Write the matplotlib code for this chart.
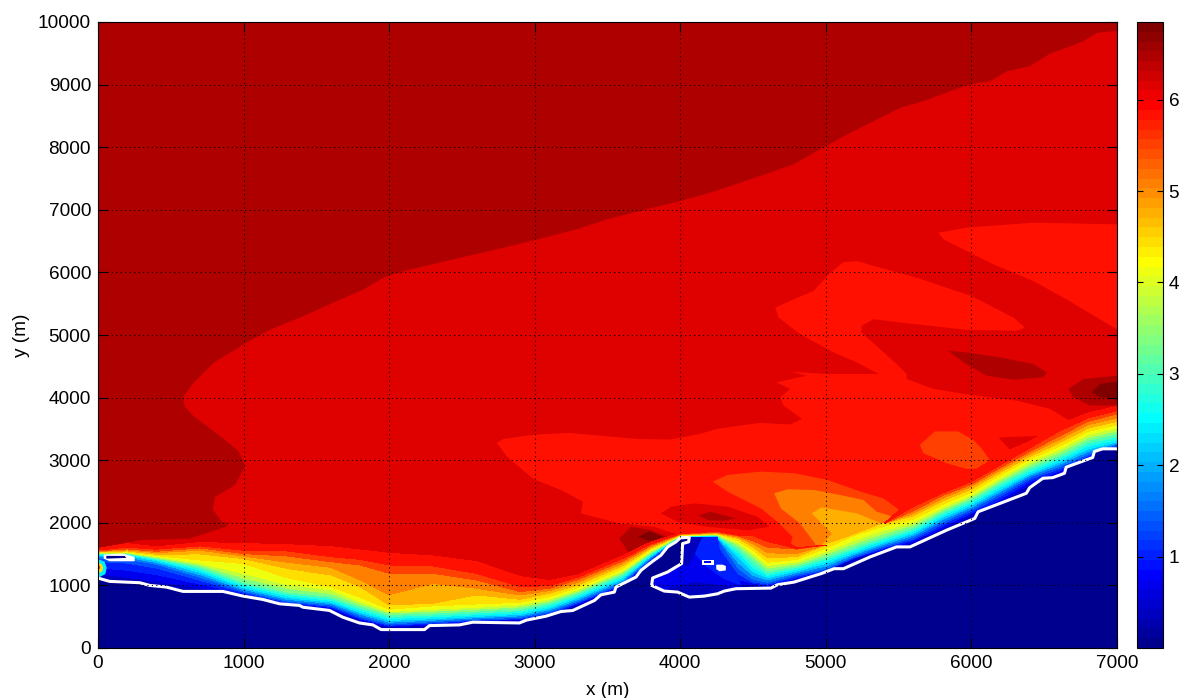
import numpy as np
import matplotlib
matplotlib.use('Agg')
import matplotlib.pyplot as plt
from matplotlib.cm import ScalarMappable
from matplotlib.colors import ListedColormap, Normalize

plt.rcParams['font.family'] = ['Liberation Sans', 'DejaVu Sans']

# values along the coast: y position of each value curve at each station
stations = [0, 200, 400, 700, 1000, 1300, 1600, 1800, 2000, 2300, 2600, 2900, 3100, 3300, 3600, 3800, 4000,
            4250, 4400, 4500, 4600, 4800, 5000, 5200, 5400, 5600, 5800, 6000, 6200, 6400, 6600, 6800, 7000]
y_000 = [900, 840, 790, 700, 630, 490, 400, 200, 105, 160, 210, 200, 310, 450, 750, 1150, 1500,
         700, 750, 770, 760, 850, 1000, 1190, 1320, 1440, 1660, 1870, 2080, 2360, 2540, 2800, 2980]
y_050 = [1130, 1064, 1010, 925, 850, 705, 620, 430, 330, 360, 420, 440, 530, 690, 989, 1385, 1765,
         1000, 960, 1000, 975, 1075, 1240, 1425, 1560, 1670, 1885, 2100, 2310, 2590, 2770, 3040, 3210]
y_150 = [1420, 1401, 1320, 1107, 893, 733, 672, 491, 368, 406, 448, 475, 565, 733, 1027, 1428, 1775,
         1770, 1214, 1064, 1027, 1160, 1246, 1455, 1615, 1749, 1989, 2200, 2444, 2711, 2872, 3075, 3240]
y_250 = [1490, 1492, 1401, 1225, 973, 813, 741, 581, 448, 475, 512, 544, 645, 813, 1107, 1481, 1782,
         1790, 1480, 1240, 1134, 1240, 1363, 1535, 1695, 1840, 2096, 2294, 2551, 2791, 2979, 3193, 3300]
y_350 = [1510, 1513, 1438, 1310, 1064, 904, 831, 677, 544, 565, 597, 634, 730, 893, 1187, 1524, 1790,
         1805, 1615, 1428, 1240, 1320, 1470, 1631, 1791, 1936, 2187, 2390, 2658, 2898, 3086, 3326, 3433]
y_410 = [1518, 1524, 1460, 1353, 1187, 1010, 927, 741, 582, 618, 650, 688, 778, 936, 1225, 1551, 1795,
         1815, 1680, 1508, 1320, 1375, 1539, 1722, 1882, 2005, 2240, 2444, 2711, 2968, 3166, 3406, 3513]
y_445 = [1525, 1535, 1476, 1406, 1348, 1120, 980, 810, 618, 672, 703, 730, 821, 973, 1267, 1578, 1800,
         1822, 1710, 1561, 1370, 1415, 1592, 1802, 1947, 2059, 2294, 2487, 2765, 3016, 3219, 3460, 3567]
y_479 = [1532, 1551, 1497, 1503, 1428, 1270, 1166, 980, 688, 714, 847, 778, 874, 1011, 1310, 1599, 1806,
         1830, 1749, 1615, 1440, 1460, 1645, 1807, 1989, 2112, 2347, 2540, 2808, 3059, 3273, 3513, 3620]
y_513 = [1540, 1567, 1524, 1561, 1470, 1370, 1289, 1087, 850, 1033, 954, 847, 916, 1053, 1348, 1620, 1812,
         1840, 1770, 1668, 1520, 1510, 1645, 1807, 1989, 2150, 2390, 2583, 2845, 3102, 3326, 3567, 3674]
y_547 = [1550, 1583, 1545, 1599, 1508, 1470, 1379, 1326, 1193, 1193, 1087, 900, 954, 1096, 1385, 1642, 1820,
         1850, 1790, 1711, 1610, 1580, 1645, 1807, 1989, 2193, 2433, 2615, 2882, 3139, 3380, 3620, 3738]
y_581 = [1565, 1610, 1578, 1631, 1561, 1550, 1459, 1416, 1326, 1310, 1193, 980, 996, 1134, 1428, 1663, 1828,
         1862, 1802, 1791, 1700, 1590, 1645, 1807, 1989, 2257, 2471, 2658, 2925, 3193, 3460, 3674, 3791]
y_616 = [1590, 1668, 1615, 1684, 1668, 1650, 1619, 1565, 1512, 1470, 1379, 1140, 1076, 1171, 1470, 1695, 1836,
         1875, 1820, 1882, 1860, 1600, 1645, 1807, 1989, 2400, 2600, 2800, 3100, 3300, 3567, 3754, 3861]
curve_values = [0, 0.5, 1.5, 2.5, 3.5, 4.1, 4.446, 4.788, 5.13, 5.472, 5.814, 6.156]

# contour level spacing of the picture
levels = [0.342 * k for k in range(19)]

# band 6.16: everything right of / below the darkest boundary
b616_x = [7000, 6858, 6767, 6630, 6539, 6401, 6242, 6127, 6000, 5853, 5670, 5510, 5350, 5168, 5000, 4779, 4482,
          4208, 4000, 3797, 3500, 3288, 3000, 2785, 2441, 2098, 1961, 1824, 1641, 1412, 1183, 1000, 794, 657,
          588, 593, 657, 840, 966, 1011, 996, 941, 803, 790, 852, 892, 880, 630, 286, 0, 0, 7000]
b616_y = [9860, 9823, 9690, 9568, 9494, 9292, 9212, 9053, 9011, 8894, 8735, 8628, 8442, 8230, 8018, 7726, 7487,
          7274, 7141, 7025, 6850, 6688, 6517, 6394, 6208, 6021, 5915, 5728, 5542, 5302, 5089, 4849, 4556, 4236,
          4023, 3863, 3703, 3383, 3143, 2903, 2843, 2603, 2411, 2204, 2012, 2000, 1935, 1749, 1722, 1588, 0, 0]

# band 5.81
b581_x = [6689, 6540, 6311, 6000, 5739, 5556, 5556, 5487, 5245, 5245, 5327, 5556, 5968, 6311, 6368, 6288, 6000,
          5625, 5213, 5121, 5018, 4915, 4778, 4652, 4675, 4824, 5053, 5213, 5362, 5007, 4755, 4870, 4659, 4755,
          4687, 4709, 4835, 4755, 4549, 4252, 4137, 3929, 3700, 3242, 3000, 2785, 2739, 2807, 2990, 3181, 3330,
          3318, 3581, 3822, 3936, 4000, 4300, 4600, 5000, 6000, 6700]
b581_y = [3607, 3820, 3952, 4042, 4138, 4297, 4377, 4536, 5040, 5146, 5252, 5188, 5082, 5066, 5119, 5279, 5623,
          5915, 6180, 6164, 5968, 5703, 5570, 5438, 5278, 5013, 4721, 4562, 4377, 4377, 4414, 4350, 4244, 4138,
          4005, 3873, 3660, 3570, 3597, 3501, 3422, 3330, 3340, 3436, 3410, 3340, 3276, 3063, 2700, 2524, 2337,
          2150, 1989, 1936, 1845, 1813, 1500, 1100, 1200, 2200, 3000]
top_x = [5773, 5968, 6426, 7000, 7000, 6654, 6426, 6151, 5922, 5808]
top_y = [6635, 6715, 6795, 6768, 5088, 5568, 5861, 6128, 6395, 6528]

# lobes over the main band
b547_x = [4222, 4325, 4554, 4782, 5011, 5240, 5395, 5491, 5520, 5395, 5189, 4950, 4800, 4805, 4760, 4771, 4668, 4554, 4325]
b547_y = [2658, 2765, 2818, 2792, 2685, 2497, 2390, 2230, 2150, 1900, 1800, 1500, 1400, 1561, 1668, 1775, 2016, 2230, 2497]
b513_x = [4645, 4737, 4920, 5098, 5258, 5349, 5480, 5400, 5000, 4925, 4822, 4691]
b513_y = [2471, 2535, 2524, 2444, 2364, 2177, 2085, 1800, 1300, 1672, 1991, 2230]
b479_x = [4903, 4971, 5212, 5383, 5480, 5400, 5000, 4961, 5041, 4961]
b479_y = [2151, 2246, 2151, 1991, 2030, 1700, 1300, 1615, 1829, 2016]
spot547_x = [5646, 5749, 5909, 6011, 6068, 6126, 6114, 5966, 5829, 5669]
spot547_y = [3246, 3460, 3460, 3326, 3193, 3005, 2872, 2861, 2952, 3112]

# darker patches
tri616_x = [6187, 6548, 6514, 6422, 6331, 6274]
tri616_y = [3364, 3396, 3246, 3112, 3059, 3139]
tri650_x = [6358, 6457, 6457, 6388]
tri650_y = [3219, 3273, 3193, 3139]
sliver616_x = [5669, 5737, 5840, 5897, 5840, 5715]
sliver616_y = [2417, 2481, 2540, 2562, 2497, 2390]
tongue650_x = [5842, 5968, 6197, 6425, 6517, 6494, 6288, 6105, 5945]
tongue650_y = [4748, 4721, 4642, 4536, 4403, 4324, 4286, 4350, 4562]
edge650_x = [6666, 6769, 7000, 7000, 6814, 6700]
edge650_y = [4138, 4297, 4350, 3873, 3873, 4005]
edge684_x = [6826, 6883, 7000, 7000, 6883]
edge684_y = [4085, 4218, 4255, 3990, 4005]
peak616_x = [3867, 3936, 4096, 4325, 4531, 4611, 4462, 4188, 3982]
peak616_y = [2150, 2257, 2310, 2257, 2096, 1936, 1882, 1936, 2016]
peak650_x = [4124, 4210, 4382, 4302, 4188]
peak650_y = [2123, 2176, 2070, 2032, 2043]
west650_x = [3581, 3661, 3799, 3936, 3776, 3650]
west650_y = [1749, 1936, 1882, 1749, 1631, 1508]
west684_x = [3707, 3787, 3879, 3799]
west684_y = [1775, 1866, 1775, 1695]

# lagoon behind the spit
lagoon_x = [4016, 4060, 4060, 4256, 4279, 4394, 4417, 4100, 3760, 3760, 3900, 4009]
lagoon_y = [1668, 1700, 1770, 1775, 1428, 1160, 950, 800, 950, 1150, 1250, 1350]
lagoon_dark1_x = [4016, 4060, 4150, 4100, 4050, 4009]
lagoon_dark1_y = [1668, 1770, 1770, 1500, 1300, 1350]
lagoon_dark2_x = [3900, 4100, 4300, 4417, 4100]
lagoon_dark2_y = [950, 1050, 1000, 950, 800]
lagoon_light_x = [4150, 4256, 4279, 4394, 4417, 4300, 4180, 4100]
lagoon_light_y = [1770, 1775, 1428, 1160, 1000, 1100, 1300, 1500]

# small patch on the left edge
corner_c_x = [0, 50, 60, 45, 0]
corner_c_y = [1120, 1180, 1280, 1380, 1420]
corner_y_x = [0, 30, 35, 25, 0]
corner_y_y = [1190, 1230, 1290, 1340, 1370]
corner_o_x = [0, 15, 15, 0]
corner_o_y = [1240, 1270, 1310, 1330]

# white line along the dry cells
shore_x = [0, 80, 286, 355, 470, 584, 858, 995, 1133, 1247, 1384, 1407, 1590, 1682, 1796, 1888, 1945, 2243, 2277,
           2483, 2574, 2895, 2941, 3078, 3181, 3261, 3410, 3455, 3547, 3558, 3696, 3730, 3810, 3867, 3913, 3970,
           4000, 4062, 4057, 4016, 4009, 3913, 3810, 3803, 3890, 3982, 4062, 4165, 4256, 4302, 4382, 4622, 4668,
           4782, 4966, 5057, 5121, 5304, 5486, 5578, 5829, 6023, 6046, 6377, 6400, 6491, 6559, 6639, 6651, 6833,
           6845, 6902, 7000]
shore_y = [1117, 1064, 1043, 1000, 973, 904, 904, 830, 775, 706, 680, 652, 600, 492, 400, 369, 294, 294, 358,
           369, 412, 400, 444, 508, 583, 599, 759, 850, 893, 973, 1134, 1241, 1385, 1481, 1615, 1695,
           1759, 1770, 1695, 1668, 1348, 1214, 1118, 1000, 909, 893, 813, 829, 866, 909, 947, 957, 1011,
           1053, 1187, 1267, 1267, 1455, 1615, 1615, 1882, 2070, 2176, 2471, 2561, 2711, 2722, 2791, 2888, 3043,
           3139, 3182, 3182]
ring_x = [39, 172, 252, 252, 80, 39]
ring_y = [1492, 1508, 1455, 1385, 1385, 1428]
ring_in_x = [57, 183, 195, 57]
ring_in_y = [1471, 1471, 1439, 1428]
isle1_x = [4146, 4229, 4229, 4146]
isle1_y = [1406, 1406, 1332, 1332]
isle1_in_x = [4165, 4212, 4212, 4165]
isle1_in_y = [1383, 1383, 1355, 1355]
isle2_x = [4247, 4290, 4313, 4313, 4270, 4247]
isle2_y = [1331, 1331, 1310, 1240, 1225, 1260]

x_ticks = [0, 1000, 2000, 3000, 4000, 5000, 6000, 7000]
y_ticks = [0, 1000, 2000, 3000, 4000, 5000, 6000, 7000, 8000, 9000, 10000]
cbar_ticks = [1, 2, 3, 4, 5, 6]
v_max = 6.85


def matlab_jet():
    m, n = 64, 16
    u = np.concatenate((np.arange(1, n + 1) / n, np.ones(n - 1), np.arange(n, 0, -1) / n))
    g = 8 + np.arange(1, len(u) + 1)
    rgb = np.zeros((m, 3))
    for col, idx in enumerate((g + n, g, g - n)):
        keep = (idx >= 1) & (idx <= m)
        rgb[idx[keep] - 1, col] = u[keep]
    return ListedColormap(rgb)


cmap = matlab_jet()
norm = Normalize(0, v_max)

W, H = 1179, 698
fig = plt.figure(figsize=(W / 100, H / 100), dpi=100)
ax = fig.add_axes([98 / W, (H - 648) / H, 1019 / W, 626 / H])


def patch(px, py, value, z=1.0, color=None):
    ax.fill(px, py, color=cmap(norm(value)) if color is None else color, lw=0, zorder=z)


ax.set_facecolor(cmap(norm(6.498)))
patch(b616_x, b616_y, 6.156, 1.01)
patch(b581_x, b581_y, 5.814, 1.02)
patch(top_x, top_y, 5.814, 1.02)
patch(tongue650_x, tongue650_y, 6.498, 1.03)
patch(edge650_x, edge650_y, 6.498, 1.03)
patch(edge684_x, edge684_y, 6.84, 1.04)
patch(spot547_x, spot547_y, 5.472, 1.03)
patch(tri616_x, tri616_y, 6.156, 1.03)
patch(tri650_x, tri650_y, 6.498, 1.04)
patch(sliver616_x, sliver616_y, 6.156, 1.03)
patch(peak616_x, peak616_y, 6.156, 1.03)
patch(peak650_x, peak650_y, 6.498, 1.04)
patch(west650_x, west650_y, 6.498, 1.03)
patch(west684_x, west684_y, 6.84, 1.04)
patch(b547_x, b547_y, 5.472, 1.05)
patch(b513_x, b513_y, 5.13, 1.06)
patch(b479_x, b479_y, 4.788, 1.07)

# coastal gradient, contoured by matplotlib on a curved grid
curves = np.array([y_000, y_050, y_150, y_250, y_350, y_410, y_445, y_479, y_513, y_547, y_581, y_616], dtype=float)
gx = np.tile(np.array(stations, dtype=float), (len(curve_values), 1))
gz = np.tile(np.array(curve_values)[:, None], (1, len(stations)))
band_colors = [cmap(norm(v)) for v in levels[:-1]]
ax.contourf(gx, curves, gz, levels=levels[:-1] + [levels[-1] + 0.001], colors=band_colors, zorder=1.5,
            antialiased=False)

patch(corner_c_x, corner_c_y, 2.394, 1.6)
patch(corner_y_x, corner_y_y, 4.446, 1.61)
patch(corner_o_x, corner_o_y, 5.472, 1.62)

patch(lagoon_x, lagoon_y, 0.684, 1.6)
patch(lagoon_dark1_x, lagoon_dark1_y, 0.342, 1.61)
patch(lagoon_dark2_x, lagoon_dark2_y, 0.342, 1.61)
patch(lagoon_light_x, lagoon_light_y, 1.026, 1.61)

patch(shore_x + [7000, 0], shore_y + [0, 0], 0, 1.7)
ax.plot(shore_x, shore_y, color='white', lw=2.2, zorder=1.8, solid_joinstyle='round')
patch(ring_x, ring_y, 0, 1.9, 'white')
patch(ring_in_x, ring_in_y, 0, 1.91)
patch(isle1_x, isle1_y, 0, 1.9, 'white')
patch(isle1_in_x, isle1_in_y, 0.684, 1.91)
patch(isle2_x, isle2_y, 0, 1.9, 'white')

ax.set_xlim(0, 7000)
ax.set_ylim(0, 10000)
ax.set_xticks(x_ticks)
ax.set_yticks(y_ticks)
ax.grid(True, color='black', linestyle=(0, (1, 3)), linewidth=0.8)
ax.set_axisbelow(False)
ax.tick_params(direction='in', top=True, right=True, length=7, width=0.8, labelsize=13.7, pad=5)
ax.set_xlabel('x (m)', fontsize=13.7, labelpad=7)
ax.set_ylabel('y (m)', fontsize=13.7, labelpad=6)

cax = fig.add_axes([1137 / W, (H - 648) / H, 26 / W, 626 / H])
cb = fig.colorbar(ScalarMappable(norm=norm, cmap=cmap), cax=cax)
cb.set_ticks(cbar_ticks)
cax.tick_params(direction='in', left=True, right=True, length=4, width=0.8, labelsize=13.7, pad=4)

fig.savefig('out.png', dpi=100)
